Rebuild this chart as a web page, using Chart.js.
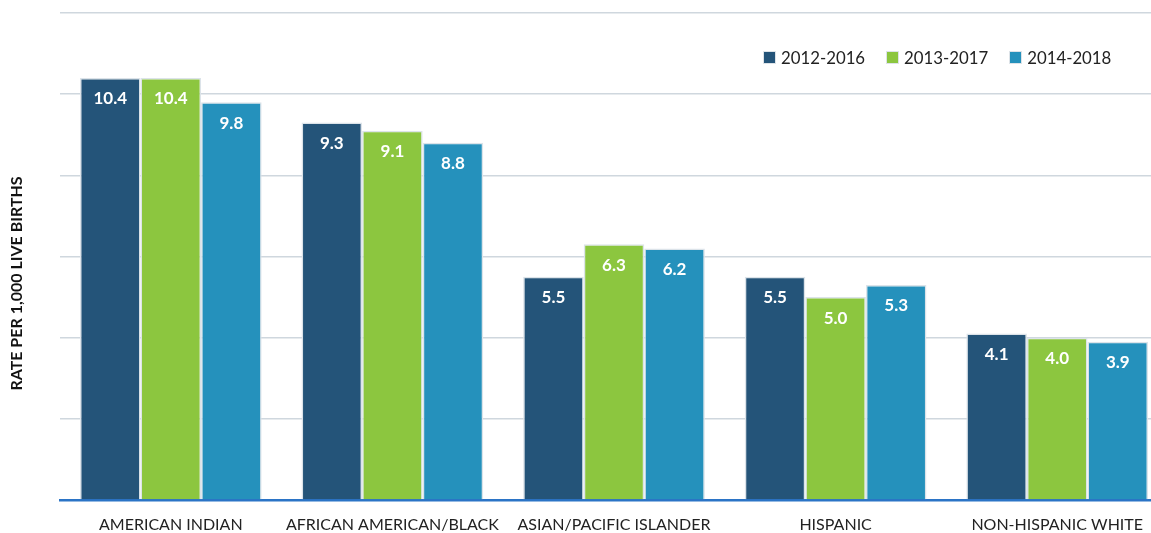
<!DOCTYPE html>
<html>
<head>
<meta charset="utf-8">
<script src="https://cdn.jsdelivr.net/npm/chart.js@4/dist/chart.umd.min.js"></script>
<style>
  body { margin: 0; background: #fff; font-family: Lato, "Open Sans", sans-serif; overflow: hidden; }
  #wrap { position: relative; width: 1151px; height: 533px; overflow: hidden; }
  #legend { position: absolute; top: 47px; left: 763px; display: flex; font-size: 16.8px; color: #222; }
  #legend .item { display: flex; align-items: center; margin-right: 21px; }
  #legend .box { width: 11px; height: 11px; margin-right: 5px; border: 1px solid #dde3e8; }
</style>
</head>
<body>
<div id="wrap">
  <canvas id="chart" width="1170" height="533"></canvas>
  <div id="legend"></div>
</div>
<script>
// categories and series values
const categories = ["AMERICAN INDIAN", "AFRICAN AMERICAN/BLACK", "ASIAN/PACIFIC ISLANDER", "HISPANIC", "NON-HISPANIC WHITE"];
const series_names = ["2012-2016", "2013-2017", "2014-2018"];
const values_2012_2016 = [10.4, 9.3, 5.5, 5.5, 4.1];
const values_2013_2017 = [10.4, 9.1, 6.3, 5.0, 4.0];
const values_2014_2018 = [9.8, 8.8, 6.2, 5.3, 3.9];
const colors = ["#245479", "#8cc63f", "#2591bc"];
const y_title = "RATE PER 1,000 LIVE BIRTHS";

let all_values = [values_2012_2016, values_2013_2017, values_2014_2018];

// white value labels inside the top of each bar
const barLabels = {
  id: "barLabels",
  afterDatasetsDraw(chart) {
    let ctx = chart.ctx;
    ctx.save();
    ctx.font = "bold 17px Lato, 'Open Sans', sans-serif";
    ctx.fillStyle = "#ffffff";
    ctx.textAlign = "center";
    ctx.textBaseline = "middle";
    chart.data.datasets.forEach((ds, i) => {
      chart.getDatasetMeta(i).data.forEach((bar, j) => {
        ctx.fillText(ds.data[j].toFixed(1), bar.x, bar.y + 21);
      });
    });
    ctx.restore();
  }
};

// rotated y axis title, sits a bit below the middle of the plot like the original
const yTitle = {
  id: "yTitle",
  afterDraw(chart) {
    let ctx = chart.ctx;
    let area = chart.chartArea;
    ctx.save();
    ctx.translate(17, (area.top + area.bottom) / 2 + 27);
    ctx.rotate(-Math.PI / 2);
    ctx.font = "bold 16px Lato, 'Open Sans', sans-serif";
    ctx.fillStyle = "#111";
    ctx.textAlign = "center";
    ctx.textBaseline = "middle";
    ctx.fillText(y_title, 0, 0);
    ctx.restore();
  }
};

let datasets = series_names.map((name, i) => ({
  label: name,
  data: all_values[i],
  backgroundColor: colors[i],
  borderColor: "#dce3e9",
  borderWidth: 1.5,
  categoryPercentage: 0.82,
  barPercentage: 1.0
}));

let chart = new Chart(document.getElementById("chart"), {
  type: "bar",
  data: { labels: categories, datasets: datasets },
  plugins: [barLabels, yTitle],
  options: {
    responsive: false,
    animation: false,
    layout: { padding: { top: 13, right: 2, left: 0, bottom: 0 } },
    plugins: {
      legend: { display: false },
      tooltip: { enabled: false }
    },
    scales: {
      x: {
        afterFit: function(scale) { scale.height = 33; },
        grid: { display: false, drawTicks: false },
        border: { color: "#2b74c6", width: 2.5 },
        ticks: {
          color: "#222",
          padding: 15,
          maxRotation: 0,
          font: { family: "Lato, 'Open Sans', sans-serif", size: 16 }
        }
      },
      y: {
        min: 0,
        max: 12,
        afterFit: function(scale) { scale.width = 60; },
        border: { display: false },
        grid: { color: "#cfd7de", lineWidth: 1.5, drawTicks: false },
        ticks: { display: false, stepSize: 2 }
      }
    }
  }
});

// html legend, built from the datasets
let legend = document.getElementById("legend");
datasets.forEach(ds => {
  let item = document.createElement("div");
  item.setAttribute("class", "item");
  let box = document.createElement("span");
  box.setAttribute("class", "box");
  box.style.background = ds.backgroundColor;
  item.appendChild(box);
  item.appendChild(document.createTextNode(ds.label));
  legend.appendChild(item);
});
</script>
</body>
</html>
